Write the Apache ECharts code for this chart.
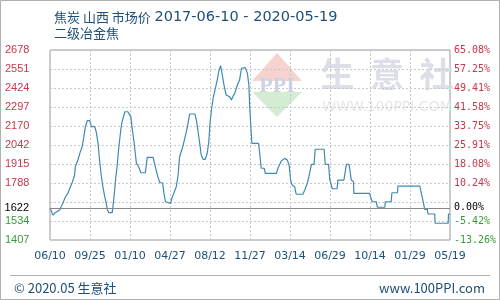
<!DOCTYPE html>
<html>
<head>
<meta charset="utf-8">
<script src="https://cdn.jsdelivr.net/npm/echarts@6/dist/echarts.min.js"></script>
<style>
html,body{margin:0;padding:0;background:#fff;}
#c{width:500px;height:300px;}
</style>
</head>
<body>
<div id="c"></div>
<script>
// ---- data ----
const titleName = '焦炭 山西 市场价';
const titleRange = '2017-06-10 - 2020-05-19';
const subTitleText = '二级冶金焦';
const footerLeft = '© 2020.05 生意社';
const footerRight = 'www.100PPI.com';

const startDate = '2017-06-10';
const totalDays = 1074; // 2017-06-10 .. 2020-05-19
const xLabels = ['06/10','09/25','01/10','04/27','08/12','11/27','03/14','06/29','10/14','01/29','05/19'];

const yMin = 1407;
const yMax = 2678;
const yStep = 127.1;
const leftLabels = ['1407','1534','','1788','1915','2042','2170','2297','2424','2551','2678'];
const rightLabels = ['-13.26%','-5.42%','','10.24%','18.08%','25.91%','33.75%','41.58%','49.41%','57.25%','65.08%'];
const baseValue = 1622;
const baseLabel = '1622';
const basePctLabel = '0.00%';

// days since start date
const days = [0,8,14,26,30,35,41,48,53,59,66,68,75,80,86,91,95,100,107,111,120,124,129,133,138,142,147,151,154,158,167,169,172,176,181,184,190,193,201,209,217,220,226,229,232,238,244,256,261,277,281,285,290,295,302,306,310,315,324,328,333,339,344,348,357,363,369,375,389,393,397,402,406,411,417,422,426,430,433,438,444,449,453,458,462,467,473,482,487,491,496,503,509,514,516,524,530,534,536,539,542,560,563,567,575,578,608,612,621,630,637,642,646,650,657,661,679,684,691,697,702,709,712,736,739,748,751,758,771,773,789,796,803,809,815,816,858,865,876,879,899,900,916,918,933,934,993,997,1002,1006,1013,1015,1033,1034,1069,1070,1074];
const prices = [1622,1574,1590,1608,1630,1656,1693,1719,1753,1786,1842,1897,1942,1987,2027,2098,2165,2205,2205,2165,2165,2131,2054,1942,1830,1764,1697,1652,1608,1590,1590,1630,1697,1808,1920,2009,2143,2192,2265,2265,2232,2165,2054,1987,1920,1897,1857,1857,1960,1960,1915,1875,1826,1790,1790,1719,1663,1652,1652,1693,1723,1764,1842,1964,2036,2098,2165,2250,2250,2210,2143,2054,1976,1947,1947,1987,2054,2196,2265,2355,2422,2477,2533,2573,2522,2444,2377,2366,2344,2366,2388,2444,2477,2556,2560,2560,2522,2444,2310,2176,2054,2054,1987,1887,1887,1853,1853,1887,1935,1953,1942,1909,1808,1775,1764,1713,1713,1741,1786,1853,1913,1913,2014,2014,1913,1913,1813,1750,1750,1808,1808,1913,1913,1808,1797,1719,1719,1663,1663,1626,1626,1663,1663,1723,1723,1768,1768,1719,1663,1612,1612,1581,1581,1519,1519,1581,1581];

// ---- chart ----
const seriesData = days.map((d, i) => [d, prices[i]]);
const xStep = totalDays / (xLabels.length - 1);
const red = '#c8364a', green = '#3a9a3a', navy = '#1d4f78';
const yIdx = v => Math.round((Number(v) - yMin) / yStep);

const chart = echarts.init(document.getElementById('c'), null, {renderer: 'canvas'});
chart.setOption({
  animation: false,
  backgroundColor: '#fff',
  title: [
    {text: '{a|' + titleName + '} {b|' + titleRange + '}', left: 49, top: 5,
     textStyle: {fontWeight: 'normal', fontSize: 13, rich: {
       a: {fontSize: 13, fontWeight: 'normal', color: navy, fontFamily: 'Noto Sans CJK SC'},
       b: {fontSize: 14.5, fontWeight: 'normal', color: navy, fontFamily: 'DejaVu Sans'}
     }}},
    {text: subTitleText, left: 49, top: 22, textStyle: {fontSize: 13, fontWeight: 'normal', color: navy, fontFamily: 'Noto Sans CJK SC'}},
    {text: footerLeft, left: 9, top: 277, textStyle: {fontSize: 13, fontWeight: 'normal', color: navy, fontFamily: 'Noto Sans CJK SC'}},
    {text: footerRight, right: 10, top: 277, textStyle: {fontSize: 13, fontWeight: 'normal', color: navy, fontFamily: 'Noto Sans CJK SC'}}
  ],
  graphic: [
    {type: 'rect', shape: {x: 0.5, y: 0.5, width: 499, height: 299}, style: {fill: 'none', stroke: '#b0b0b0', lineWidth: 1}, silent: true},
    {type: 'line', shape: {x1: 10, y1: 275.5, x2: 490, y2: 275.5}, style: {stroke: '#b0b0b0', lineWidth: 1}, silent: true},
    // watermark logo
    {type: 'polygon', shape: {points: [[277,53],[302,81],[252,81]]}, style: {fill: '#f6d3cf'}, silent: true, z: 0},
    {type: 'polygon', shape: {points: [[252,92],[302,92],[277,117]]}, style: {fill: '#d3ecd3'}, silent: true, z: 0},
    {type: 'text', style: {text: 'PPI', x: 277, y: 86, fill: '#ccd3e6', font: 'bold 22px "Liberation Serif"', textAlign: 'center', textVerticalAlign: 'middle'}, silent: true, z: 0},
    {type: 'text', style: {text: '生  意  社', x: 387, y: 74, fill: '#dcdfe8', font: 'bold 34px "Noto Sans CJK SC"', textAlign: 'center', textVerticalAlign: 'middle'}, silent: true, z: 0},
    {type: 'text', style: {text: 'WWW.100PPI.COM', x: 387, y: 107, fill: '#e4e6ec', font: '14px "DejaVu Sans"', textAlign: 'center', textVerticalAlign: 'middle'}, silent: true, z: 0}
  ],
  grid: {left: 50, top: 50, width: 400, height: 190, show: true, borderColor: '#9a9a9a', borderWidth: 1, backgroundColor: 'transparent'},
  xAxis: {
    type: 'value', min: 0, max: totalDays, interval: xStep,
    axisLine: {show: false}, axisTick: {show: false},
    splitLine: {show: true, lineStyle: {color: '#c8c8c8', type: [2, 2]}},
    axisLabel: {
      margin: 11, color: navy, fontSize: 11, fontFamily: 'DejaVu Sans',
      formatter: v => xLabels[Math.round(v / xStep)] || ''
    }
  },
  yAxis: [
    {
      type: 'value', min: yMin, max: yMax, interval: yStep, position: 'left',
      axisLine: {show: false}, axisTick: {show: false},
      splitLine: {show: true, lineStyle: {color: '#c8c8c8', type: [2, 2]}},
      axisLabel: {
        align: 'left', margin: 45, fontSize: 11, fontFamily: 'Liberation Sans',
        formatter: v => leftLabels[yIdx(v)] || '',
        color: v => (Number(v) > baseValue ? red : green)
      }
    },
    {
      type: 'value', min: yMin, max: yMax, interval: yStep, position: 'right',
      axisLine: {show: false}, axisTick: {show: false}, splitLine: {show: false},
      axisLabel: {
        align: 'left', margin: 4, fontSize: 10, fontFamily: 'DejaVu Sans Mono',
        formatter: v => rightLabels[yIdx(v)] || '',
        color: v => (Number(v) > baseValue ? red : green)
      }
    }
  ],
  series: [{
    type: 'line',
    data: seriesData,
    symbol: 'none',
    lineStyle: {color: '#3f8ab3', width: 1.2},
    z: 3,
    markLine: {
      silent: true, symbol: ['none', 'none'], animation: false,
      lineStyle: {color: '#888', type: 'solid', width: 1},
      data: [
        {yAxis: baseValue, label: {show: true, position: 'start', distance: 21, formatter: baseLabel, color: '#000', fontSize: 11, fontFamily: 'Liberation Sans'}},
        {yAxis: baseValue, label: {show: true, position: 'end', distance: 4, formatter: basePctLabel, color: '#000', fontSize: 10, fontFamily: 'DejaVu Sans Mono'}}
      ]
    }
  }]
});
</script>
</body>
</html>
